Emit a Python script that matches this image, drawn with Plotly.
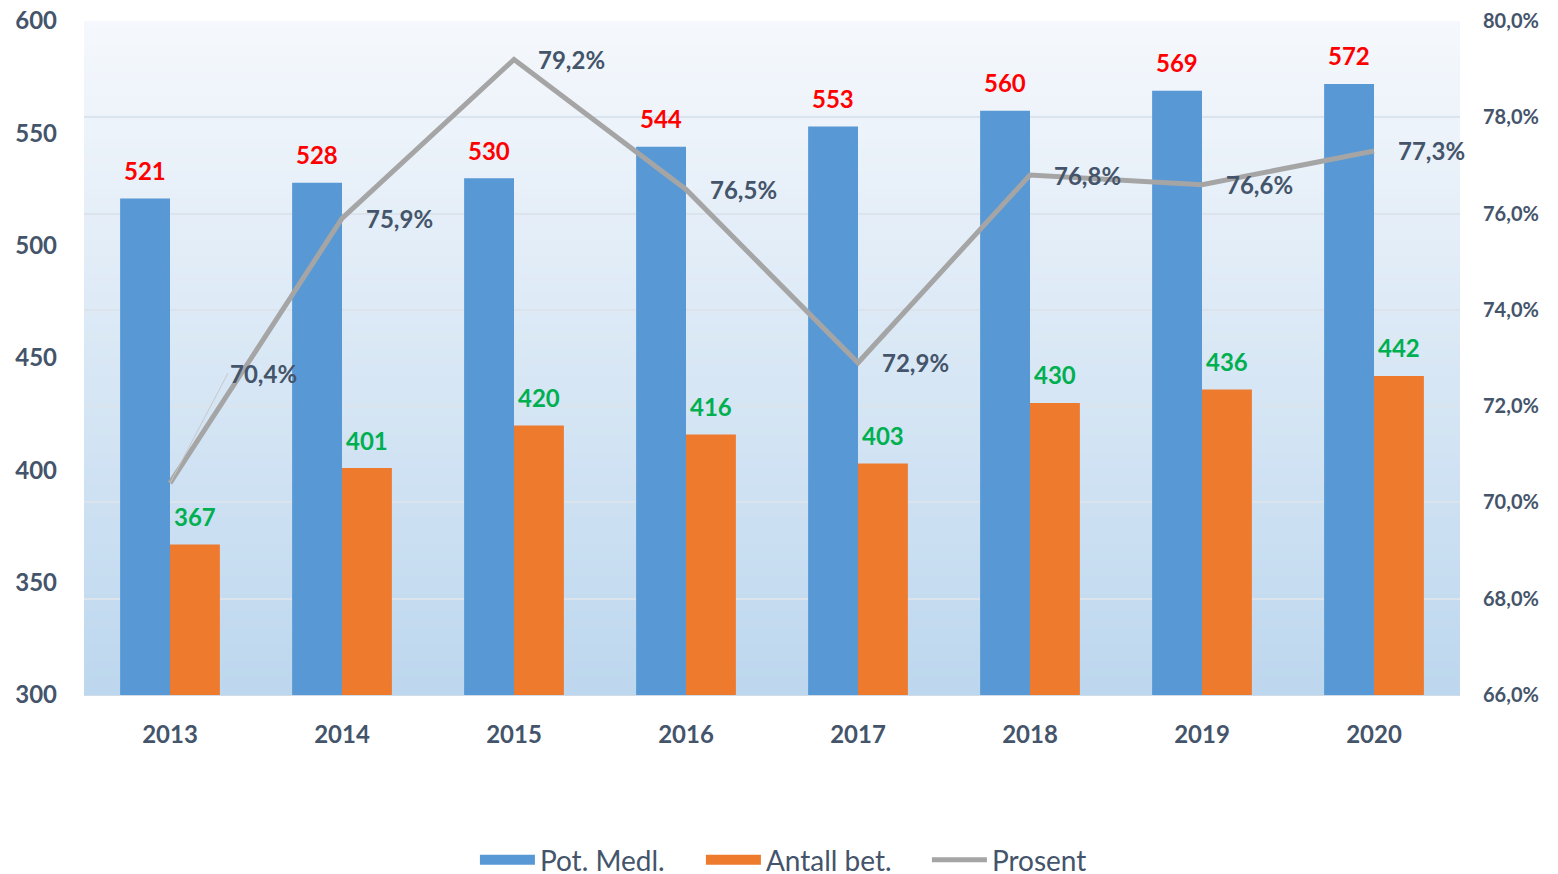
import plotly.graph_objects as go

years = ["2013", "2014", "2015", "2016", "2017", "2018", "2019", "2020"]
pot_medl = [521, 528, 530, 544, 553, 560, 569, 572]
antall_bet = [367, 401, 420, 416, 403, 430, 436, 442]
prosent = [70.4, 75.9, 79.2, 76.5, 72.9, 76.8, 76.6, 77.3]

FONT = "Lato"
SLATE = "#44546a"
BLUE = "#5898d4"
ORANGE = "#ee7a2e"

fig = go.Figure()
fig.add_trace(go.Bar(x=years, y=pot_medl, name="Pot. Medl.", showlegend=False,
                     legendgroup="a",
                     marker=dict(color=BLUE, line=dict(width=0)), yaxis="y"))
fig.add_trace(go.Bar(x=years, y=antall_bet, name="Antall bet.", showlegend=False,
                     legendgroup="b",
                     marker=dict(color=ORANGE, line=dict(width=0)), yaxis="y"))
fig.add_trace(go.Scatter(x=years, y=prosent, name="Prosent", mode="lines",
                         legendgroup="c", legendrank=3,
                         line=dict(color="#a5a5a5", width=5), yaxis="y2"))
# legend-only swatches (wide rectangles like the original)
fig.add_trace(go.Scatter(x=[None], y=[None], name="Pot. Medl.", mode="lines",
                         legendgroup="a", legendrank=1,
                         line=dict(color=BLUE, width=20), yaxis="y"))
fig.add_trace(go.Scatter(x=[None], y=[None], name="Antall bet.", mode="lines",
                         legendgroup="b", legendrank=2,
                         line=dict(color=ORANGE, width=20), yaxis="y"))

# gradient plot background via stacked strips
n = 80
top = (245, 248, 252)
bot = (189, 215, 238)
for i in range(n):
    t = i / (n - 1)
    c = tuple(int(round(top[k] + (bot[k] - top[k]) * t)) for k in range(3))
    fig.add_shape(type="rect", xref="paper", yref="paper", x0=0, x1=1,
                  y0=max(0, 1 - (i + 1.6) / n), y1=1 - i / n, layer="below",
                  line=dict(width=0), fillcolor=f"rgb{c}")

ann = []
for i, v in enumerate(pot_medl):
    ann.append(dict(x=i, y=v, xref="x", yref="y", text=f"<b>{v}</b>", showarrow=False,
                    xshift=-25, yshift=28, yanchor="middle",
                    font=dict(family=FONT, size=24, color="#ff0000")))
for i, v in enumerate(antall_bet):
    ann.append(dict(x=i, y=v, xref="x", yref="y", text=f"<b>{v}</b>", showarrow=False,
                    xshift=25, yshift=28, yanchor="middle",
                    font=dict(family=FONT, size=24, color="#00b050")))
for i, v in enumerate(prosent):
    txt = "<b>" + f"{v:.1f}".replace(".", ",") + "%</b>"
    if i == 0:
        ann.append(dict(x=i, y=v, xref="x", yref="y2", text=txt, showarrow=True,
                        arrowhead=0, arrowwidth=1, arrowcolor="#c8c8c8",
                        ax=58, ay=-110, xanchor="left", yanchor="middle",
                        font=dict(family=FONT, size=24, color=SLATE)))
    else:
        ann.append(dict(x=i, y=v, xref="x", yref="y2", text=txt, showarrow=False,
                        xanchor="left", xshift=22, yanchor="middle",
                        font=dict(family=FONT, size=24, color=SLATE)))

fig.update_layout(
    width=1550, height=900,
    margin=dict(l=76, r=98, t=13, b=213),
    paper_bgcolor="white", plot_bgcolor="rgba(0,0,0,0)",
    separators=",.",
    barmode="group", bargap=0.42, bargroupgap=0,
    font=dict(family=FONT, color=SLATE),
    xaxis=dict(type="category", range=[-0.5, len(years) - 0.5], showgrid=False,
               automargin=False,
               tickfont=dict(size=24, color=SLATE, weight="bold"),
               ticklabelstandoff=18, showline=True, linecolor="#d0dce8", linewidth=1),
    yaxis=dict(range=[300, 600], dtick=50, showgrid=False, zeroline=False, automargin=False,
               tickfont=dict(size=24, color=SLATE, weight="bold"),
               ticklabelstandoff=26, ticklabeloverflow="allow"),
    yaxis2=dict(range=[66, 80], dtick=2, overlaying="y", side="right", automargin=False,
                showgrid=True, gridcolor="#dbe3ec", gridwidth=2, zeroline=False,
                tickformat=".1f", ticksuffix="%", ticklabeloverflow="allow",
                tickfont=dict(size=20, color=SLATE, weight="bold"),
                ticklabelstandoff=22),
    legend=dict(orientation="h", x=0.2841, xanchor="left", y=-0.2448, yanchor="middle",
                font=dict(size=28, color=SLATE, family=FONT), itemwidth=55,
                entrywidth=156, entrywidthmode="pixels",
                traceorder="normal"),
    annotations=ann,
    showlegend=True,
)

fig.write_html("out.html")
